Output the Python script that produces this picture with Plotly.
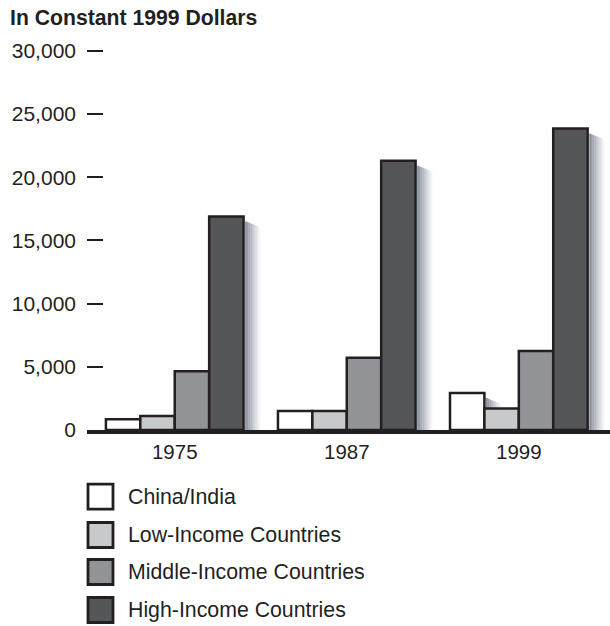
import plotly.graph_objects as go

# ---- data -------------------------------------------------------------
years = ["1975", "1987", "1999"]
series_names = ["China/India", "Low-Income Countries",
                "Middle-Income Countries", "High-Income Countries"]
china_india = [850, 1500, 2920]
low_income = [1100, 1500, 1700]
middle_income = [4650, 5720, 6240]
high_income = [16900, 21300, 23850]
y_tick_vals = [0, 5000, 10000, 15000, 20000, 25000, 30000]
y_tick_text = ["0", "5,000", "10,000", "15,000", "20,000", "25,000", "30,000"]
y_title = "In Constant 1999 Dollars"

series_values = [china_india, low_income, middle_income, high_income]

# ---- style ------------------------------------------------------------
fills = ["#ffffff", "#c8c9cb", "#929396", "#555658"]
edge = "#231f20"
font_family = "Liberation Sans, Arial, Helvetica, sans-serif"

W, H = 610, 626
M_L, M_R, M_T, M_B = 87, 0, 47, 196
plot_w = W - M_L - M_R
plot_h = H - M_T - M_B
x_range = [-0.51, 2.53]
y_range = [0, 30300]
px_per_x = plot_w / (x_range[1] - x_range[0])
px_per_y = plot_h / (y_range[1] - y_range[0])
bargap = 0.2
bar_w = (1 - bargap) / len(series_names)


def paper_x(px):
    return (px - M_L) / plot_w


def paper_y(py):
    return (H - M_B - py) / plot_h


fig = go.Figure()
for name, vals, col in zip(series_names, series_values, fills):
    fig.add_trace(go.Bar(
        x=years, y=vals, name=name,
        marker=dict(color=col, line=dict(color=edge, width=2.5)),
        showlegend=False,
    ))

# soft drop shadow to the right of each bar (hidden where a taller bar follows)
shapes = []
n_strips = 9
for k, vals in enumerate(series_values):
    for i, v in enumerate(vals):
        right = i - (1 - bargap) / 2 + bar_w * (k + 1)
        for j in range(n_strips):
            a = 0.8 * (1 - j / n_strips) ** 1.2
            x0 = right + (1.6 + 1.7 * j) / px_per_x
            x1 = right + (1.6 + 1.7 * (j + 1)) / px_per_x
            top = v - (5 + 0.7 * j) / px_per_y
            if top <= 0:
                continue
            shapes.append(dict(
                type="rect", xref="x", yref="y", layer="below",
                x0=x0, x1=x1, y0=0, y1=top,
                fillcolor=f"rgba(104,113,130,{a:.3f})", line=dict(width=0),
            ))

# legend drawn as boxes + labels
legend_rows = [496.7, 535, 572, 610]
box = 25
for name, col, cy in zip(series_names, fills, legend_rows):
    shapes.append(dict(
        type="rect", xref="paper", yref="paper", layer="above",
        x0=paper_x(88), x1=paper_x(88 + box),
        y0=paper_y(cy + box / 2), y1=paper_y(cy - box / 2),
        fillcolor=col, line=dict(color=edge, width=2.8),
    ))

annotations = []
for name, cy in zip(series_names, legend_rows):
    annotations.append(dict(
        xref="paper", yref="paper", x=paper_x(126), y=paper_y(cy),
        xanchor="left", yanchor="middle", showarrow=False,
        text=name, font=dict(family=font_family, size=21.3, color="#231f20"),
    ))

annotations.append(dict(
    xref="paper", yref="paper", x=paper_x(8), y=paper_y(18),
    xanchor="left", yanchor="middle", showarrow=False,
    text=f"<b>{y_title}</b>",
    font=dict(family=font_family, size=21.2, color="#231f20"),
))

fig.update_layout(
    width=W, height=H,
    margin=dict(l=M_L, r=M_R, t=M_T, b=M_B, pad=0),
    paper_bgcolor="white", plot_bgcolor="white",
    barmode="group", bargap=bargap, bargroupgap=0,
    font=dict(family=font_family, size=20, color="#231f20"),
    shapes=shapes, annotations=annotations,
    xaxis=dict(
        type="category", range=x_range, showgrid=False, zeroline=False,
        showline=True, linewidth=4, linecolor=edge,
        ticks="", ticklabelstandoff=0,
        tickfont=dict(family=font_family, size=20.5, color="#231f20"),
        fixedrange=True,
    ),
    yaxis=dict(
        range=y_range, showgrid=False, zeroline=False, showline=False,
        tickvals=y_tick_vals, ticktext=y_tick_text,
        ticks="inside", ticklen=16, tickwidth=1.5, tickcolor=edge,
        ticklabelstandoff=10,
        tickfont=dict(family=font_family, size=21, color="#231f20"),
        fixedrange=True,
    ),
)

fig.write_html("out.html")
